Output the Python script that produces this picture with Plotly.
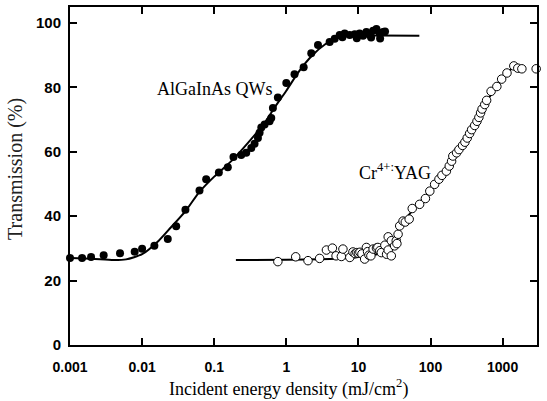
import plotly.graph_objects as go

# AlGaInAs QWs measured data (filled circles)
alg_x = [0.001, 0.00147, 0.00196, 0.00293, 0.00494, 0.00789, 0.0100, 0.0148, 0.0227, 0.0297,
         0.0399, 0.0625, 0.0774, 0.116, 0.1545, 0.185, 0.237, 0.278, 0.327, 0.363,
         0.404, 0.426, 0.45, 0.5, 0.586, 0.619, 0.652, 0.764, 1.0, 1.30,
         1.74, 2.22, 2.75, 3.99, 4.69, 5.5, 6.0, 6.45, 7.57, 8.9,
         9.5, 10.4, 11.6, 12.9, 14.4, 15.0, 16.0, 17.8, 19.8, 20.0, 22.0, 23.4]
alg_y = [27.0, 27.0, 27.3, 27.9, 28.5, 29.0, 29.9, 30.8, 32.9, 36.9,
         42.0, 48.0, 51.5, 53.6, 55.2, 58.4, 59.0, 59.7, 61.2, 62.5,
         64.3, 65.9, 67.6, 68.5, 69.5, 70.5, 73.6, 76.9, 81.4, 84.1,
         86.3, 90.6, 93.2, 94.1, 95.1, 96.3, 95.6, 96.8, 96.3, 96.5,
         95.3, 96.8, 96.1, 97.2, 96.3, 95.5, 97.6, 98.2, 96.8, 95.2, 97.2, 97.4]

# AlGaInAs fit curve
alg_fit_x = [0.001, 0.002, 0.004, 0.006, 0.01, 0.017, 0.025, 0.04, 0.062, 0.1,
             0.18, 0.3, 0.5, 0.7, 1.0, 1.5, 2.3, 3.5, 5.0, 7.0, 70.0]
alg_fit_y = [27.0, 26.8, 26.4, 26.6, 28.2, 32.4, 36.5, 41.6, 47.5, 52.3,
             57.5, 63.0, 69.0, 74.0, 79.0, 85.0, 90.0, 93.5, 95.3, 96.0, 96.1]

# Cr4+:YAG measured data (open circles)
cr_x = [0.764, 1.35, 2.0, 2.9, 3.6, 4.36, 4.9, 5.8, 6.1, 7.6,
        8.4, 9.0, 9.5, 10.0, 10.5, 11.2, 12.2, 12.9, 13.4, 14.0,
        14.9, 16.0, 17.8, 18.6, 19.8, 20.8, 23.3, 24.6, 25.9, 25.9,
        28.6, 28.6, 31.8, 33.5, 34.2, 35.5, 37.4, 41.6, 44.7, 50.6,
        55.8, 70.6, 85.0, 97.8, 114, 131, 144, 166, 182, 196,
        204, 230, 248, 278, 300, 323, 349, 372, 410, 441,
        469, 495, 519, 565, 600, 692, 832, 970, 1150, 1430,
        1625, 1850, 2920]
cr_y = [25.9, 27.4, 26.2, 26.9, 29.5, 30.1, 27.7, 27.5, 29.8, 27.2,
        28.9, 28.4, 28.7, 28.5, 28.8, 28.3, 26.7, 30.3, 29.0, 27.9,
        27.7, 29.8, 30.1, 30.3, 29.3, 28.7, 31.0, 28.2, 29.5, 33.6,
        27.7, 32.4, 30.8, 32.4, 31.5, 34.4, 37.0, 38.5, 38.2, 39.1,
        42.4, 43.7, 45.5, 47.8, 49.9, 51.5, 52.7, 54.0, 55.6, 57.1,
        58.7, 59.7, 60.7, 62.0, 63.0, 64.3, 65.7, 66.9, 68.2, 69.5,
        70.7, 72.1, 73.3, 74.7, 76.0, 78.8, 80.3, 82.6, 84.5, 86.7,
        86.0, 85.8, 85.8]

# Cr4+:YAG fit curve
cr_fit_x = [0.2, 1.0, 5.0, 10.0, 20.0, 30.0, 35.0, 40.0, 60.0, 100.0,
            200.0, 400.0, 700.0, 1000.0, 1430.0]
cr_fit_y = [26.4, 26.5, 26.8, 27.3, 28.5, 31.0, 35.0, 37.5, 42.5, 48.0,
            57.0, 69.0, 78.0, 83.0, 86.5]

x_tickvals = [0.001, 0.01, 0.1, 1, 10, 100, 1000]
x_ticktext = ["0.001", "0.01", "0.1", "1", "10", "100", "1000"]
y_tickvals = [0, 20, 40, 60, 80, 100]

SERIF = "Liberation Serif, Times New Roman, serif"
SANS = "Liberation Sans, Arial, sans-serif"

fig = go.Figure()
fig.add_trace(go.Scatter(x=alg_fit_x, y=alg_fit_y, mode="lines",
                         line=dict(color="black", width=2, shape="spline", smoothing=0.6),
                         showlegend=False, hoverinfo="skip"))
fig.add_trace(go.Scatter(x=cr_fit_x, y=cr_fit_y, mode="lines",
                         line=dict(color="black", width=2, shape="spline", smoothing=0.6),
                         showlegend=False, hoverinfo="skip"))
fig.add_trace(go.Scatter(x=alg_x, y=alg_y, mode="markers",
                         marker=dict(symbol="circle", size=8, color="black"),
                         cliponaxis=False, showlegend=False))
fig.add_trace(go.Scatter(x=cr_x, y=cr_y, mode="markers",
                         marker=dict(symbol="circle", size=8.5, color="white",
                                     line=dict(color="black", width=1)),
                         cliponaxis=False, showlegend=False))

fig.add_annotation(x=-0.996, y=79.5, xref="x", yref="y", text="AlGaInAs QWs",
                   showarrow=False, font=dict(family=SERIF, size=18, color="black"),
                   xanchor="center", yanchor="middle")
fig.add_annotation(x=1.504, y=53.9, xref="x", yref="y", text="Cr<sup>4+:</sup>YAG",
                   showarrow=False, font=dict(family=SERIF, size=18, color="black"),
                   xanchor="center", yanchor="middle")
fig.add_annotation(x=0.467, y=-0.166, xref="paper", yref="paper",
                   text="Incident energy density (mJ/cm<sup>2</sup>)",
                   showarrow=False, font=dict(family=SERIF, size=18, color="black"),
                   xanchor="center", yanchor="bottom", borderpad=0)
fig.add_annotation(x=-0.1156, y=0.521, xref="paper", yref="paper",
                   text="Transmission (%)", textangle=-90,
                   showarrow=False, font=dict(family=SERIF, size=20, color="#222"),
                   xanchor="center", yanchor="middle")

fig.update_xaxes(type="log", range=[-3, 3.477], tickvals=x_tickvals, ticktext=x_ticktext,
                 ticks="inside", ticklen=7, tickwidth=2, tickcolor="black",
                 showline=True, linecolor="black", linewidth=2, mirror="ticks",
                 showgrid=False, zeroline=False, ticklabelstandoff=8,
                 tickfont=dict(family=SANS, size=14, color="black", weight="bold"))
fig.update_yaxes(range=[0, 105], tickvals=y_tickvals,
                 ticks="inside", ticklen=7, tickwidth=2, tickcolor="black",
                 showline=True, linecolor="black", linewidth=2, mirror="ticks",
                 showgrid=False, zeroline=False, ticklabelstandoff=4,
                 tickfont=dict(family=SANS, size=15, color="black", weight="bold"))

fig.update_layout(width=547, height=401, margin=dict(l=70, r=10, t=5, b=56, pad=0),
                  plot_bgcolor="white", paper_bgcolor="white", showlegend=False)

fig.write_html("out.html")
